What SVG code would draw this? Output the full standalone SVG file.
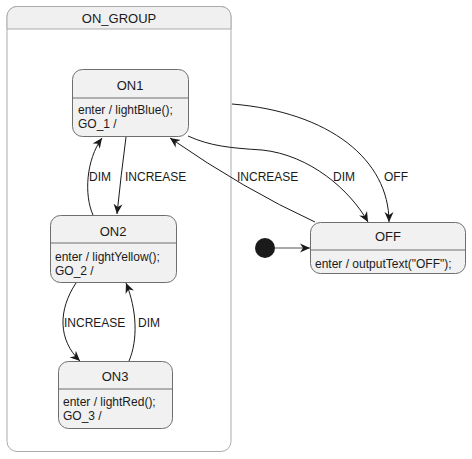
<svg xmlns="http://www.w3.org/2000/svg" width="472" height="459" viewBox="0 0 472 459">
<style>
text{font-family:"Liberation Sans",Arial,sans-serif;fill:#1a1a1a}
.t{font-size:13px;text-anchor:middle}
.b{font-size:12px}
.l{font-size:12px}
.node{fill:#f1f1f1;stroke:#6e6e6e;stroke-width:1}
.div{stroke:#6e6e6e;stroke-width:1}
.edge{fill:none;stroke:#1a1a1a;stroke-width:1;marker-end:url(#arr)}
</style>
<defs>
<marker id="arr" markerUnits="userSpaceOnUse" markerWidth="12" markerHeight="10" refX="10" refY="5" orient="auto">
<path d="M0,0.5 L10,5 L0,9.5 L3,5 z" fill="#1a1a1a"/>
</marker>
</defs>
<rect width="472" height="459" fill="#ffffff"/>
<g id="ON_GROUP">
<rect x="7" y="6.5" width="224" height="445" rx="10" fill="#ffffff" stroke="#ababab"/>
<path d="M7,29 L7,16.5 A10,10 0 0 1 17,6.5 L221,6.5 A10,10 0 0 1 231,16.5 L231,29 Z" fill="#f0f0f0" stroke="#ababab"/>
<text class="t" x="119" y="23">ON_GROUP</text>
</g>
<g id="ON1">
<rect class="node" x="72.5" y="69.5" width="116" height="67" rx="10"/>
<line class="div" x1="72.5" y1="98" x2="188.5" y2="98"/>
<text class="t" x="130" y="89.5">ON1</text>
<text class="b" x="78" y="114">enter / lightBlue();</text>
<text class="b" x="78" y="128">GO_1 /</text>
</g>
<g id="ON2">
<rect class="node" x="50.5" y="215.5" width="126" height="67" rx="10"/>
<line class="div" x1="50.5" y1="243" x2="176.5" y2="243"/>
<text class="t" x="113" y="235.5">ON2</text>
<text class="b" x="55" y="261">enter / lightYellow();</text>
<text class="b" x="55" y="275">GO_2 /</text>
</g>
<g id="ON3">
<rect class="node" x="58.5" y="361.5" width="114" height="67" rx="10"/>
<line class="div" x1="58.5" y1="389" x2="172.5" y2="389"/>
<text class="t" x="115" y="380.5">ON3</text>
<text class="b" x="63" y="406">enter / lightRed();</text>
<text class="b" x="63" y="420">GO_3 /</text>
</g>
<g id="OFF">
<rect class="node" x="310.5" y="222.5" width="155" height="51" rx="10"/>
<line class="div" x1="310.5" y1="250" x2="465.5" y2="250"/>
<text class="t" x="388" y="240.5">OFF</text>
<text class="b" x="315" y="267.5">enter / outputText("OFF");</text>
</g>
<g id="INIT">
<circle cx="265" cy="248" r="10" fill="#1a1a1a"/>
</g>
<g id="connectors">
<path class="edge" style="stroke:#555" d="M275,248 L310,248"/>
<path class="edge" d="M126,137 Q121,175 117,214"/>
<path class="edge" d="M93,215 C84,195 86,160 102,138"/>
<path class="edge" d="M76,283 C58,310 58,340 80,361"/>
<path class="edge" d="M129,361 C138,340 137,310 126,283"/>
<path class="edge" d="M232,104 C330,112 389,160 389,222"/>
<path class="edge" d="M188,136 C210,146 230,148 262,150 C310,155 350,190 368,222"/>
<path class="edge" d="M315,222 Q245,190 170,138"/>
<text class="l" x="125" y="181">INCREASE</text>
<text class="l" x="89" y="181">DIM</text>
<text class="l" x="64" y="327">INCREASE</text>
<text class="l" x="138" y="327">DIM</text>
<text class="l" x="237" y="181">INCREASE</text>
<text class="l" x="333" y="181">DIM</text>
<text class="l" x="384" y="181">OFF</text>
</g>
</svg>
